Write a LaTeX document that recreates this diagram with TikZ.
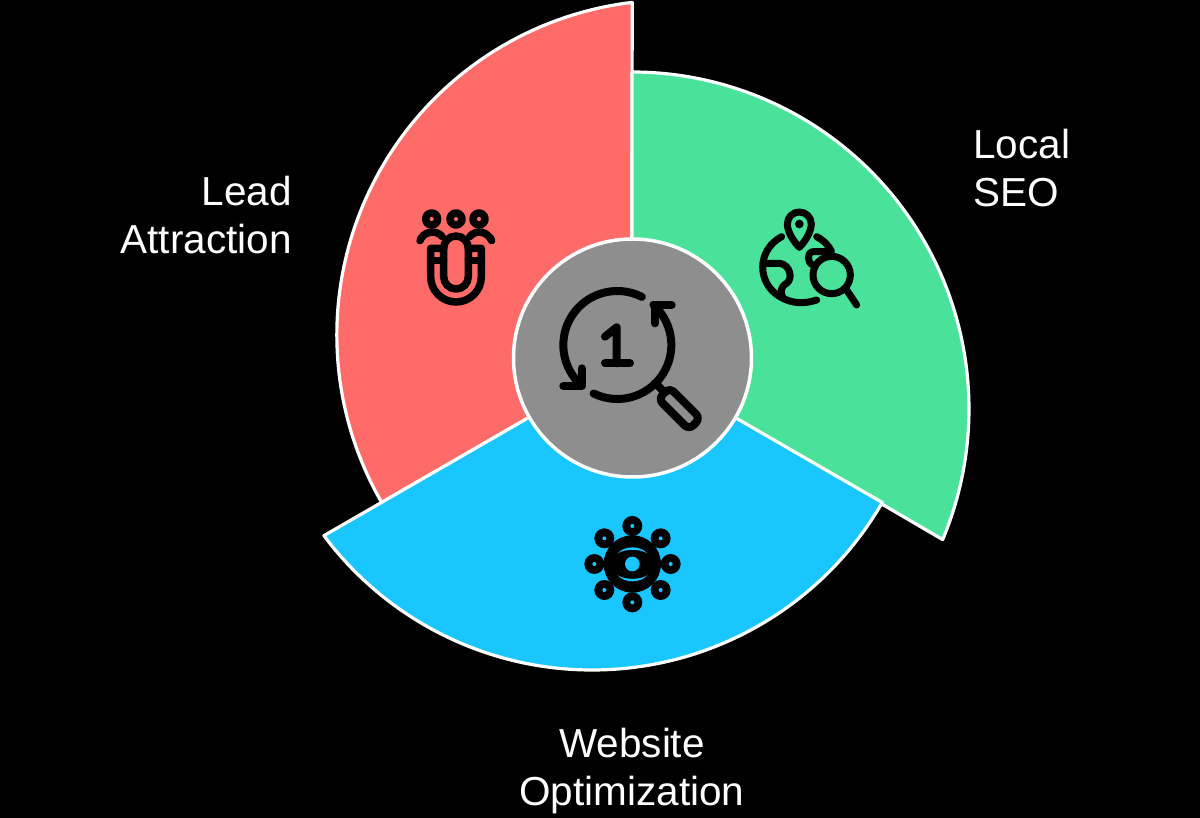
\documentclass[tikz,border=0pt]{standalone}
\usepackage{fontspec}
\setmainfont{Liberation Sans}
\definecolor{redp}{HTML}{FF6B68}
\definecolor{greenp}{HTML}{4AE29A}
\definecolor{bluep}{HTML}{1AC6FF}
\definecolor{hubg}{HTML}{8E8E8E}
\tikzset{
  petal/.style={draw=white,line width=3.2pt,line join=round},
  icon/.style={draw=black,line width=8pt,line cap=round,line join=round},
  magnet/.style={icon,line width=7.5pt},
  globe/.style={icon,line width=7pt},
  label/.style={text=white,inner sep=0pt,font=\fontsize{40.5}{48}\selectfont},
}
\newcommand{\petalpath}{(0,0) -- (90:289) arc[start angle=90,end angle=-23.2,radius=335] -- cycle}
\begin{document}
\begin{tikzpicture}[x=1pt,y=1pt]
\fill[black] (-632,-460) rectangle (568,358);
\useasboundingbox (-632,-460) rectangle (568,358);
% petals
\draw[petal,fill=redp,rotate=120] \petalpath;
\draw[petal,fill=greenp] (0,0) -- (90:286) arc[start angle=90,end angle=-22.8,radius=337] -- cycle;
\draw[petal,fill=bluep,rotate=-120] \petalpath;
\draw[draw=white,line width=3.5pt,fill=hubg] (0.5,0) circle[radius=119];
% centre icon
\begin{scope}[shift={(510-632,358-240)},xscale=1/3,yscale=-1/3]
  \draw[icon] (322,315) ++(-63:162) arc[start angle=-63,end angle=-222,radius=162];
  \draw[icon] (322,315) ++(116:162) arc[start angle=116,end angle=-48,radius=162];
  \draw[icon] (160,438) -- (215,438) -- (215,385);
  \draw[icon] (485,195) -- (435,195) -- (435,250);
  \draw[icon] (285,290) -- (320,262) -- (320,370);
  \draw[icon] (285,370) -- (360,370);
  \draw[icon] (437,430) -- (460,453);
  \begin{scope}[shift={(462,460)},rotate=45]
    \draw[icon,rounded corners=6pt] (0,-24) rectangle (130,24);
  \end{scope}
\end{scope}
% magnet icon
\begin{scope}[shift={(400-632,358-195)},xscale=1/3,yscale=-1/3]
  \foreach \hx in {95,168,237} \draw[magnet] (\hx,72) circle[radius=18];
  \draw[magnet] (60,137) .. controls (68,112) and (105,100) .. (127,125);
  \draw[magnet] (209,125) .. controls (230,100) and (265,112) .. (275,137);
  \draw[magnet] (131,160) arc[start angle=180,end angle=360,radius=37];
  \draw[magnet] (92,160) -- (92,245) arc[start angle=180,end angle=0,radius=76] -- (244,160) -- (205,160) -- (205,245) arc[start angle=0,end angle=180,radius=37] -- (131,160) -- cycle;
  \draw[magnet] (92,197) -- (131,197);
  \draw[magnet] (205,197) -- (244,197);
\end{scope}
% globe icon
\begin{scope}[shift={(750-632,358-200)},xscale=1/3,yscale=-1/3]
  \draw[globe] (112,72) arc[start angle=180,end angle=360,radius=36] .. controls (184,95) and (165,125) .. (148,142) .. controls (131,125) and (112,95) .. (112,72) -- cycle;
  \fill[black] (148,72) circle[radius=13];
  \draw[globe] (95,110) .. controls (20,150) and (20,250) .. (90,290) .. controls (125,312) and (165,312) .. (200,300);
  \draw[globe] (200,110) .. controls (220,120) and (235,135) .. (245,155) -- (190,155) .. controls (170,155) and (170,190) .. (190,195);
  \draw[globe] (45,190) -- (90,190) .. controls (120,195) and (130,235) .. (110,250) .. controls (90,260) and (90,280) .. (100,295);
  \draw[globe] (245,225) circle[radius=56];
  \draw[globe] (290,270) -- (320,315);
\end{scope}
% network eye icon
\begin{scope}[shift={(575-632,358-510)},xscale=1/3,yscale=-1/3]
  \foreach \sx/\sy in {172/48,257/85,287/162,257/240,172/277,88/240,58/162,88/85} {
    \fill[black] (\sx,\sy) circle[radius=30];
    \fill[bluep] (\sx,\sy) circle[radius=6];
  }
  \fill[black] (172,162) circle[radius=86];
  \fill[bluep] (128,130) .. controls (150,106) and (195,106) .. (217,130) .. controls (195,116) and (150,116) .. (128,130) -- cycle;
  \fill[bluep] (128,196) .. controls (150,220) and (195,220) .. (217,196) .. controls (195,210) and (150,210) .. (128,196) -- cycle;
  \fill[bluep] (172,162) circle[radius=22];
\end{scope}
% labels
\node[label,align=right,anchor=north east] (lead) at (292-632,358-176) {Lead\\Attraction};
\node[label,align=left,anchor=north west] (local) at (973-632,358-129) {Local\\SEO};
\node[label,align=center,anchor=north] (web) at (632-632,358-728) {Website\\Optimization};
\end{tikzpicture}
\end{document}
